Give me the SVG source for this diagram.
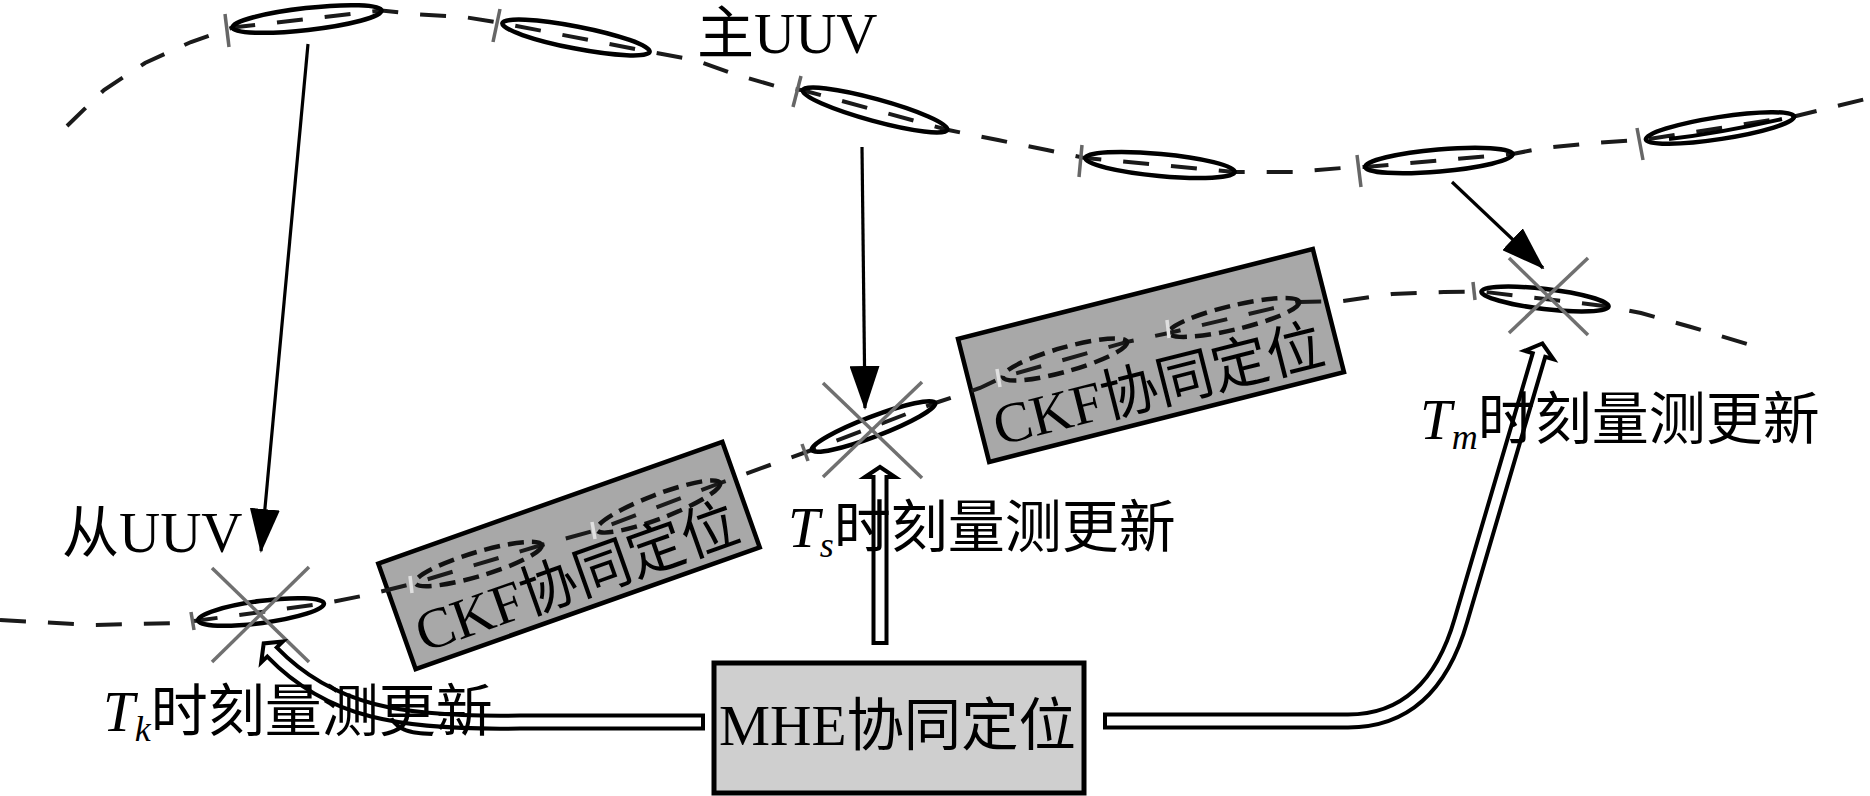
<svg xmlns="http://www.w3.org/2000/svg" width="1870" height="796" viewBox="0 0 1870 796">
<style>
.curve{fill:none;stroke:#1a1a1a;stroke-width:4;stroke-dasharray:26 22}
.ell{fill:none;stroke:#000;stroke-width:4.5}
.dell{fill:none;stroke:#111;stroke-width:4.5;stroke-dasharray:16 8}
.tick{stroke:#666;stroke-width:3.5}
.ltick{stroke:#e0e0e0;stroke-width:3.5}
.xm{stroke:#707070;stroke-width:3.5}
.box{fill:#a8a8a8;stroke:#000;stroke-width:4.5}
.mhe{fill:#cfcfcf;stroke:#000;stroke-width:5}
.lbl{font-family:"Liberation Serif","Noto Sans CJK SC",serif;font-size:57px;fill:#000}
.it{font-style:italic}
.sub{font-style:italic;font-size:36px}
.arr{fill:none;stroke:#000;stroke-width:3.2}
.hb{fill:none;stroke:#000;stroke-width:17}
.hw{fill:none;stroke:#fff;stroke-width:9}
.hh{fill:#fff;stroke:#000;stroke-width:4;stroke-linejoin:miter}
</style>
<defs>
<marker id="ah" viewBox="0 0 44 30" markerWidth="44" markerHeight="30" refX="42" refY="15" orient="auto" markerUnits="userSpaceOnUse">
<path d="M0,0 L44,15 L0,30 z" fill="#000"/>
</marker>
</defs>

<g id="ckf1">
<rect class="box" x="-182.5" y="-56" width="365" height="112" transform="translate(569,555.5) rotate(-19.5)"/>
</g>
<g id="ckf2">
<rect class="box" x="-183" y="-63.5" width="366" height="127" transform="translate(1151,355.5) rotate(-14.2)"/>
</g>

<g id="paths">
<path id="master-path" class="curve" d="M67,126 L104,90 L145,63 L191,42 L232.5,27.5 L381.5,10.5 L413,14 L464,17 L502.4,23.2 L649.6,51.8 L695,60 L737,75 L779,87 L802.7,90.2 L947.3,129.8 L998,140 L1047,150 L1085.3,158.1 L1234.7,171.9 L1293,172 L1342,168 L1365.3,167 L1512.7,154 L1543,148 L1594,143 L1645.9,139.5 L1794.1,116.5 L1870,98"/>
<path id="slave-path" class="curve" d="M0,620 L92,625 L179,623 L198.1,620.5 L323.9,603.5 L367,595 L415.3,583 L541.7,545 L596.8,530 L720.2,483 L770,465 L811.8,450 L935.2,403 L980,388 L1002.9,377.1 L1127.1,341.9 L1168.8,333 L1299.2,302 L1343,301 L1392,294 L1444,292 L1481.4,291.5 L1608.6,306.5 L1641,313 L1691,327 L1764,349"/>
</g>

<g id="master-ellipses">
<ellipse class="ell" cx="307" cy="19" rx="75" ry="11" transform="rotate(-6.5 307 19)"/>
<ellipse class="ell" cx="576" cy="37.5" rx="75" ry="11" transform="rotate(11 576 37.5)"/>
<ellipse class="ell" cx="875" cy="110" rx="75" ry="11" transform="rotate(15.3 875 110)"/>
<ellipse class="ell" cx="1160" cy="165" rx="75" ry="11" transform="rotate(5.3 1160 165)"/>
<ellipse class="ell" cx="1439" cy="160.5" rx="74" ry="11" transform="rotate(-5 1439 160.5)"/>
<ellipse class="ell" cx="1720" cy="128" rx="75" ry="11" transform="rotate(-8.8 1720 128)"/>
<path d="M1669,139 Q1720,133 1782,119" fill="none" stroke="#000" stroke-width="4"/>
<line class="tick" x1="225" y1="14" x2="229" y2="47"/>
<line class="tick" x1="500" y1="9" x2="493" y2="42"/>
<line class="tick" x1="801" y1="76" x2="793" y2="107"/>
<line class="tick" x1="1082" y1="145" x2="1079" y2="177"/>
<line class="tick" x1="1357" y1="155" x2="1361" y2="187"/>
<line class="tick" x1="1637" y1="128" x2="1643" y2="160"/>
</g>

<g id="slave-ellipses">
<ellipse class="ell" cx="261" cy="612" rx="63.5" ry="11" transform="rotate(-7.7 261 612)"/>
<ellipse class="ell" cx="873.5" cy="426.5" rx="66" ry="10" transform="rotate(-20.9 873.5 426.5)"/>
<ellipse class="ell" cx="1545" cy="299" rx="64" ry="10" transform="rotate(6.7 1545 299)"/>
<ellipse class="dell" cx="478.5" cy="564" rx="66" ry="12" transform="rotate(-16.7 478.5 564)"/>
<ellipse class="dell" cx="658.5" cy="506.5" rx="66" ry="12" transform="rotate(-20.9 658.5 506.5)"/>
<ellipse class="dell" cx="1065" cy="359.5" rx="64.5" ry="12" transform="rotate(-15.8 1065 359.5)"/>
<ellipse class="dell" cx="1234" cy="317.5" rx="67" ry="12" transform="rotate(-13.4 1234 317.5)"/>
<line class="tick" x1="191" y1="612" x2="194" y2="630"/>
<line class="tick" x1="802" y1="444" x2="808" y2="461"/>
<line class="tick" x1="1473" y1="282" x2="1475" y2="300"/>
<line class="ltick" x1="410" y1="576" x2="412" y2="593"/>
<line class="ltick" x1="592" y1="522" x2="595" y2="539"/>
<line class="ltick" x1="997" y1="369" x2="1000" y2="387"/>
<line class="ltick" x1="1167" y1="320" x2="1169" y2="338"/>
<line class="xm" x1="212" y1="568" x2="309" y2="662"/>
<line class="xm" x1="309" y1="567" x2="212" y2="662"/>
<line class="xm" x1="823" y1="383" x2="922" y2="478"/>
<line class="xm" x1="922" y1="382" x2="823" y2="477"/>
<line class="xm" x1="1509" y1="258" x2="1588" y2="335"/>
<line class="xm" x1="1588" y1="258" x2="1509" y2="333"/>
</g>

<g id="ckf1-label">
<text class="lbl" transform="translate(569,555.5) rotate(-19.5)" x="0" y="43" font-size="59" text-anchor="middle">CKF协同定位</text>
</g>
<g id="ckf2-label">
<text class="lbl" transform="translate(1151,355.5) rotate(-14.2)" x="0" y="50" font-size="59" text-anchor="middle">CKF协同定位</text>
</g>

<g id="labels">
<text class="lbl" x="697" y="53" font-size="59">主UUV</text>
<text class="lbl" x="62" y="552" font-size="61">从UUV</text>
</g>

<g id="connectors">
<line class="arr" x1="308" y1="44" x2="261" y2="551" marker-end="url(#ah)"/>
<line class="arr" x1="862" y1="147" x2="865" y2="408" marker-end="url(#ah)"/>
<line class="arr" x1="1452" y1="182" x2="1543" y2="268" marker-end="url(#ah)"/>

<polygon class="hh" points="865,477 880,467 895,477"/>
<path class="hb" d="M880,645 V477"/>
<path class="hw" d="M880,641 V473"/>

<polygon class="hh" points="1553.4,359.2 1542.4,343.5 1524.6,350.8"/>
<path class="hb" d="M1103,721 H1348 Q1432,721 1461,620 L1539,355"/>
<path class="hw" d="M1107,721 H1348 Q1432,721 1461,620 L1540.1,351.2"/>

<polygon class="hh" points="282.8,641.6 263.7,643.4 261.2,662.4"/>
<path class="hb" d="M705,722 H520 C400,724 330,712 272,652"/>
<path class="hw" d="M701,722 H520 C400,724 330,712 272,652 L269.2,649.1"/>
</g>

<g id="time-labels">
<text class="lbl" x="788" y="547"><tspan class="it">T</tspan><tspan class="sub" dy="10">s</tspan><tspan dy="-10">时刻量测更新</tspan></text>
<text class="lbl" x="1420" y="439"><tspan class="it">T</tspan><tspan class="sub" dy="10">m</tspan><tspan dy="-10">时刻量测更新</tspan></text>
<text class="lbl" x="103" y="731"><tspan class="it">T</tspan><tspan class="sub" dy="10">k</tspan><tspan dy="-10">时刻量测更新</tspan></text>
</g>

<g id="mhe">
<rect class="mhe" x="714" y="663" width="370" height="130"/>
<text class="lbl" x="719" y="745" font-size="60" textLength="357" lengthAdjust="spacingAndGlyphs">MHE协同定位</text>
</g>
</svg>
